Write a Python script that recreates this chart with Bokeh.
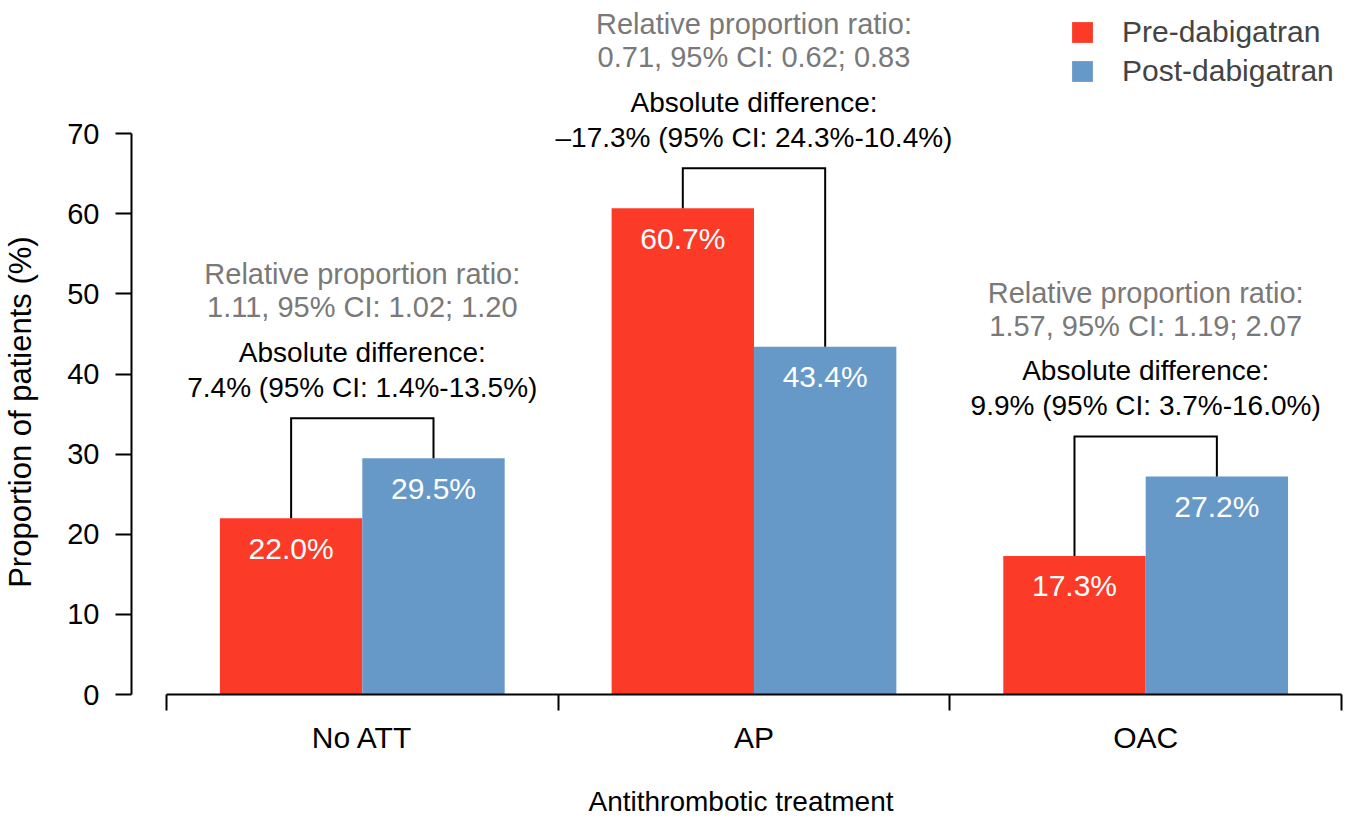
import numpy as np
from bokeh.plotting import figure
from bokeh.models import FixedTicker, Legend, LegendItem, Range1d
from bokeh.core.properties import value
from bokeh.embed import file_html
from bokeh.resources import INLINE

# ---- data ----
categories = ["No ATT", "AP", "OAC"]
pre = [22.0, 60.7, 17.3]
post = [29.5, 43.4, 27.2]
pre_labels = ["22.0%", "60.7%", "17.3%"]
post_labels = ["29.5%", "43.4%", "27.2%"]
ratio_title = "Relative proportion ratio:"
ratio_text = ["1.11, 95% CI: 1.02; 1.20", "0.71, 95% CI: 0.62; 0.83", "1.57, 95% CI: 1.19; 2.07"]
diff_title = "Absolute difference:"
diff_text = ["7.4% (95% CI: 1.4%-13.5%)", "\u201317.3% (95% CI: 24.3%-10.4%)", "9.9% (95% CI: 3.7%-16.0%)"]
y_ticks = [0, 10, 20, 30, 40, 50, 60, 70]
series_names = ["Pre-dabigatran", "Post-dabigatran"]
x_title = "Antithrombotic treatment"
y_title = "Proportion of patients (%)"

# ---- style ----
FONT = "Liberation Sans"
RED = "#FC3A28"
BLUE = "#6699C7"
GRAY = "#797979"
FS = "28px"

n = len(categories)
centers = np.arange(n) + 0.5
bw = 0.3635
x_pre = centers - bw / 2
x_post = centers + bw / 2
level = np.maximum(pre, post) + 5.0

p = figure(width=1350, height=820, output_backend="svg", toolbar_location=None,
           x_range=Range1d(-35 / 392, n + 9 / 392), y_range=Range1d(0, 86.64),
           min_border_left=130, min_border_right=0, min_border_top=0, min_border_bottom=126)
p.outline_line_color = None
p.grid.visible = False
p.background_fill_color = "white"

r1 = p.vbar(x=x_pre, top=pre, width=bw, fill_color=RED, line_color=None)
r2 = p.vbar(x=x_post, top=post, width=bw, fill_color=BLUE, line_color=None)

# brackets
xs = [[a, a, b, b] for a, b in zip(x_pre, x_post)]
ys = [[u, l, l, v] for u, v, l in zip(pre, post, level)]
p.multi_line(xs=xs, ys=ys, line_color="black", line_width=2, line_join="miter")

common = dict(text_align="center", text_baseline="middle", text_font=value(FONT))
p.text(x=centers, y=level, text=[ratio_title] * n, y_offset=-144, text_color=GRAY,
       text_font_size="29px", **common)
p.text(x=centers, y=level, text=ratio_text, y_offset=-111, text_color=GRAY,
       text_font_size="29px", **common)
p.text(x=centers, y=level, text=[diff_title] * n, y_offset=-66, text_color="black",
       text_font_size=FS, **common)
p.text(x=centers, y=level, text=diff_text, y_offset=-31, text_color="black",
       text_font_size=FS, **common)

bl = dict(text_align="center", text_baseline="middle", text_font=value(FONT),
          text_font_size="30px", text_color="white", y_offset=30)
p.text(x=x_pre, y=pre, text=pre_labels, **bl)
p.text(x=x_post, y=post, text=post_labels, **bl)

# y axis
ya = p.yaxis[0]
ya.ticker = FixedTicker(ticks=y_ticks)
ya.bounds = (0, 70)
ya.major_tick_out = 16
ya.major_tick_in = 0
ya.minor_tick_out = 0
ya.minor_tick_in = 0
ya.major_tick_line_width = 2
ya.axis_line_width = 2
ya.major_label_standoff = 16
ya.major_label_text_font = FONT
ya.major_label_text_font_size = "29px"
ya.major_label_text_color = "black"
# trailing no-break spaces centre the visible title on the 0-70 axis span
ya.axis_label = y_title + "\u00a0" * 15
ya.axis_label_text_font = FONT
ya.axis_label_text_font_size = "31px"
ya.axis_label_text_font_style = "normal"
ya.axis_label_text_color = "black"
ya.axis_label_standoff = 26

# x axis
xa = p.xaxis[0]
xa.ticker = FixedTicker(ticks=list(centers), minor_ticks=list(range(n + 1)))
xa.major_label_overrides = {float(c): cat for c, cat in zip(centers, categories)}
xa.bounds = (0, n)
xa.major_tick_out = 0
xa.major_tick_in = 0
xa.minor_tick_out = 16
xa.minor_tick_in = 0
xa.minor_tick_line_width = 2
xa.minor_tick_line_color = "black"
xa.axis_line_width = 2
xa.major_label_standoff = 10
xa.major_label_text_font = FONT
xa.major_label_text_font_size = "30px"
xa.major_label_text_color = "black"
xa.axis_label = x_title
xa.axis_label_text_font = FONT
xa.axis_label_text_font_size = FS
xa.axis_label_text_font_style = "normal"
xa.axis_label_text_color = "black"
xa.axis_label_standoff = 29

legend = Legend(items=[LegendItem(label=series_names[0], renderers=[r1]),
                       LegendItem(label=series_names[1], renderers=[r2])],
                location=(938, 606), padding=0, margin=0, spacing=5,
                glyph_width=26, glyph_height=26, label_standoff=27,
                label_text_font=FONT, label_text_font_size="30px",
                border_line_color=None, background_fill_alpha=0)
p.add_layout(legend)

open("out.html", "w").write(file_html(p, INLINE))
